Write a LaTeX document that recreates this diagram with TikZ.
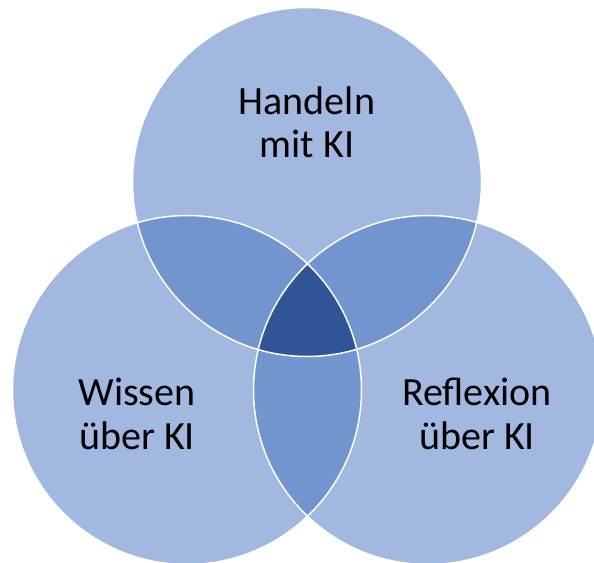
\documentclass[tikz,border=0pt]{standalone}
\usepackage{fontspec}
\setmainfont{Carlito}
\definecolor{kilight}{HTML}{A2B8E0}
\definecolor{kimid}{HTML}{7295D0}
\definecolor{kidark}{HTML}{2F5597}
\tikzset{
  kilabel/.style={align=center,anchor=base,font=\fontsize{40}{43.5}\selectfont},
  kiring/.style={draw=white,line width=1.5pt}
}
\begin{document}
\begin{tikzpicture}[x=1pt,y=-1pt]
    \useasboundingbox (0,0) rectangle (594,562);
    \clip (0,0) rectangle (594,562);

    \def\circhandeln{(307,182) circle (174.5pt)}
    \def\circwissen{(187,390) circle (174.5pt)}
    \def\circreflexion{(428,390) circle (174.5pt)}

    \fill[kilight] \circhandeln \circwissen \circreflexion;
    \begin{scope}
        \clip \circhandeln;
        \fill[kimid] \circwissen \circreflexion;
    \end{scope}
    \begin{scope}
        \clip \circwissen;
        \fill[kimid] \circreflexion;
    \end{scope}
    \begin{scope}
        \clip \circhandeln;
        \clip \circwissen;
        \fill[kidark] \circreflexion;
    \end{scope}
    \draw[kiring] \circhandeln \circwissen \circreflexion;

    % base anchor sits on the last line
    \node[kilabel] (handeln) at (307,157.5) {Handeln\\mit KI};
    \node[kilabel] (wissen) at (137,449) {Wissen\\über KI};
    \node[kilabel] (reflexion) at (477,449) {Reflexion\\über KI};
\end{tikzpicture}
\end{document}
